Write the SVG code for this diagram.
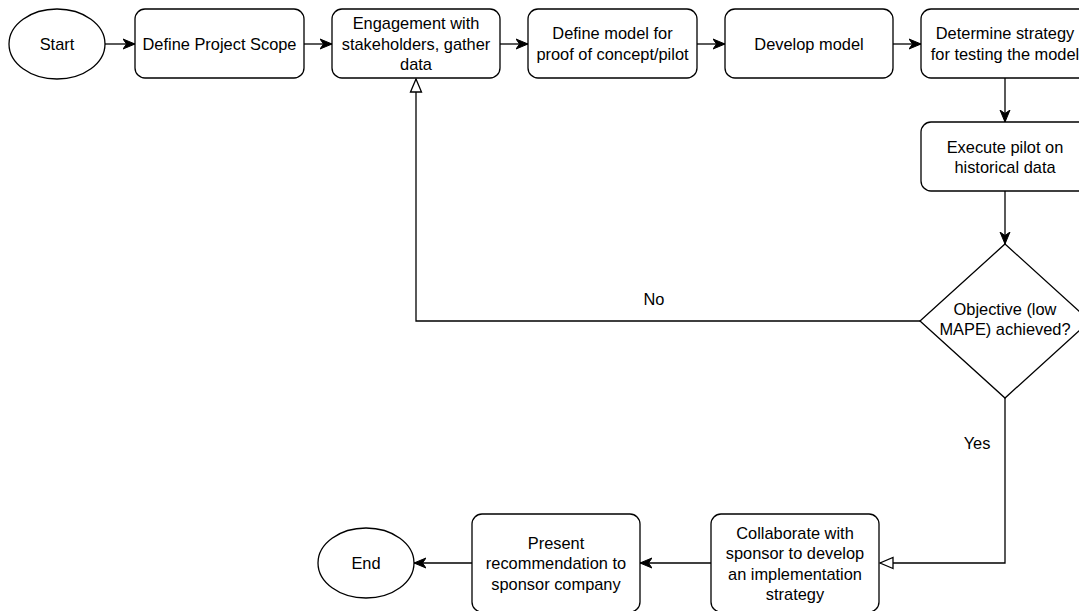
<svg xmlns="http://www.w3.org/2000/svg" width="1079" height="611" viewBox="0 0 1079 611">
  <style>
    .shape { fill: #ffffff; stroke: #000000; stroke-width: 1.3; }
    .label { font-family: "Liberation Sans", Arial, sans-serif; font-size: 16.4px; fill: #000000; text-anchor: middle; }
    .edge { fill: none; stroke: #000000; stroke-width: 1.3; }
    .flow { marker-end: url(#arrow); }
    .back { marker-end: url(#hollow); }
  </style>
  <defs>
    <marker id="arrow" markerUnits="userSpaceOnUse" markerWidth="14" markerHeight="12" refX="12" refY="6" orient="auto">
      <path d="M0,1 L12,6 L0,11 L3.5,6 Z" fill="#000000" stroke="#000000" stroke-width="1"/>
    </marker>
    <marker id="hollow" markerUnits="userSpaceOnUse" markerWidth="15" markerHeight="14" refX="14" refY="7" orient="auto">
      <path d="M1,1.5 L14,7 L1,12.5 Z" fill="#ffffff" stroke="#000000" stroke-width="1.3"/>
    </marker>
  </defs>

  <rect width="1079" height="611" fill="#ffffff"/>

  <!-- connectors -->
  <g id="connectors">
    <line class="edge flow" x1="105" y1="44" x2="135" y2="44"/>
    <line class="edge flow" x1="304" y1="44" x2="332" y2="44"/>
    <line class="edge flow" x1="500" y1="44" x2="528" y2="44"/>
    <line class="edge flow" x1="697" y1="44" x2="725" y2="44"/>
    <line class="edge flow" x1="893" y1="44" x2="921" y2="44"/>
    <line class="edge flow" x1="1005" y1="78" x2="1005" y2="122"/>
    <line class="edge flow" x1="1005" y1="191" x2="1005" y2="244"/>
    <polyline class="edge back" points="920,321 416,321 416,79"/>
    <text class="label" x="654" y="305">No</text>
    <polyline class="edge back" points="1005,398 1005,563 880,563"/>
    <text class="label" x="977" y="449">Yes</text>
    <line class="edge flow" x1="711" y1="563" x2="640" y2="563"/>
    <line class="edge flow" x1="472" y1="563" x2="414" y2="563"/>
  </g>

  <g id="start">
    <ellipse class="shape" cx="57" cy="44" rx="48" ry="35"/>
    <text class="label" x="57" y="50">Start</text>
  </g>

  <g id="define-scope">
    <rect class="shape" x="135" y="9" width="169" height="69" rx="10"/>
    <text class="label" x="219.5" y="50">Define Project Scope</text>
  </g>

  <g id="engagement">
    <rect class="shape" x="332" y="9" width="168" height="69" rx="10"/>
    <text class="label" x="416" y="29">Engagement with</text>
    <text class="label" x="416" y="50">stakeholders, gather</text>
    <text class="label" x="416" y="70">data</text>
  </g>

  <g id="define-model">
    <rect class="shape" x="528" y="9" width="169" height="69" rx="10"/>
    <text class="label" x="612.5" y="39">Define model for</text>
    <text class="label" x="612.5" y="60">proof of concept/pilot</text>
  </g>

  <g id="develop-model">
    <rect class="shape" x="725" y="9" width="168" height="69" rx="10"/>
    <text class="label" x="809" y="50">Develop model</text>
  </g>

  <g id="test-strategy">
    <rect class="shape" x="921" y="9" width="168" height="69" rx="10"/>
    <text class="label" x="1005" y="39">Determine strategy</text>
    <text class="label" x="1005" y="60">for testing the model</text>
  </g>

  <g id="execute-pilot">
    <rect class="shape" x="921" y="122" width="168" height="69" rx="10"/>
    <text class="label" x="1005" y="153">Execute pilot on</text>
    <text class="label" x="1005" y="173">historical data</text>
  </g>

  <g id="objective-check">
    <polygon class="shape" points="1005,244 1090,321 1005,398 920,321"/>
    <text class="label" x="1005" y="315">Objective (low</text>
    <text class="label" x="1005" y="335">MAPE) achieved?</text>
  </g>

  <g id="collaborate">
    <rect class="shape" x="711" y="514" width="168" height="98" rx="10"/>
    <text class="label" x="795" y="539">Collaborate with</text>
    <text class="label" x="795" y="559">sponsor to develop</text>
    <text class="label" x="795" y="580">an implementation</text>
    <text class="label" x="795" y="600">strategy</text>
  </g>

  <g id="present">
    <rect class="shape" x="472" y="514" width="168" height="98" rx="10"/>
    <text class="label" x="556" y="549">Present</text>
    <text class="label" x="556" y="569">recommendation to</text>
    <text class="label" x="556" y="590">sponsor company</text>
  </g>

  <g id="end">
    <ellipse class="shape" cx="366" cy="563" rx="48" ry="35"/>
    <text class="label" x="366" y="569">End</text>
  </g>
</svg>
